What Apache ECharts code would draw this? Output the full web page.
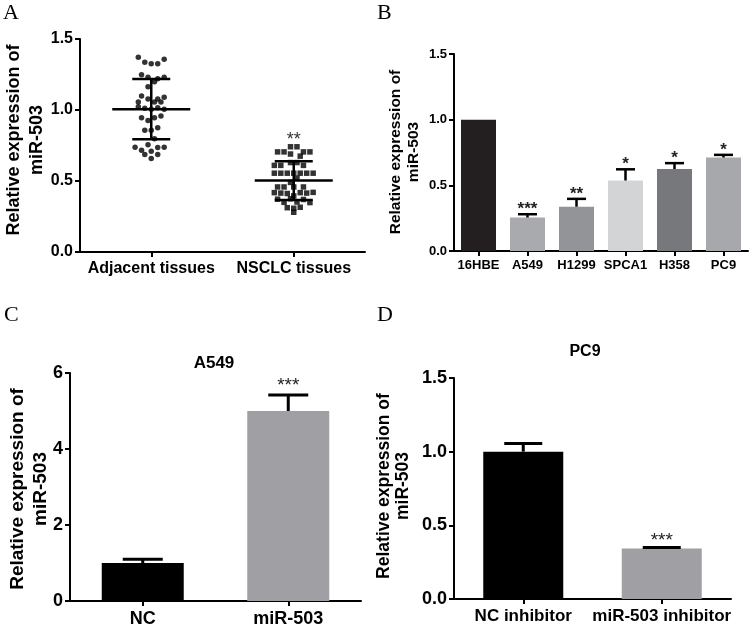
<!DOCTYPE html>
<html><head><meta charset="utf-8">
<script src="https://cdn.jsdelivr.net/npm/echarts@6/dist/echarts.min.js"></script>
<style>html,body{margin:0;padding:0;background:#fff}#c{width:753px;height:628px}</style>
</head><body><div id="c"></div><script>
const FONT = '"Liberation Sans", Arial, Helvetica, sans-serif';
const SERIF = '"Liberation Serif", "Times New Roman", serif';

// ---------- Panel A data ----------
const groupsA = ['Adjacent tissues', 'NSCLC tissues'];
const adjVals = [1.371,1.336,1.326,1.326,1.357, 1.249,1.230,1.199,1.220,1.230, 1.164,
  1.098,1.077,1.077,1.089,1.056,1.056,1.056, 1.023,1.013,1.006,1.016,1.006,
  0.945,0.926,0.945,0.957, 0.858,0.858,0.875, 0.797, 0.738,0.755,0.736,0.738,
  0.717,0.710,0.687, 0.687, 0.658];
const adjCols = [-4,-2,0,2,4, -3,-1,1,2,4, -1,
  -3,-1,2,4,-4,1,3, -4,-2,0,2,4,
  -3,-1,1,3, -2,0,2, 1, -5,-1,2,4,
  -3,0,2, -2, 0];
const nscVals = [0.741,0.741, 0.705,0.705,0.705,0.705, 0.690, 0.675, 0.630,0.630,
  0.610,0.610,0.610, 0.555,0.555,0.555,0.555,0.555,0.555,0.555, 0.520, 0.490,
  0.458,0.458,0.458,0.458, 0.418,0.415,0.412,0.418,0.415,0.420, 0.395,
  0.372,0.375,0.370, 0.350,0.352,0.348, 0.312,0.308,0.315, 0.280];
const nscCols = [-1,1, -5,-3,3,5, -1, 2, -1,1,
  -6,-4,3, -6,-4,-2,0,2,4,6, 1, -1,
  -5,-3,0,3, -6,-4,-2,2,4,6, 0,
  -5,-1,3, -3,1,5, -2,0,2, 0];
const meanA = [1.006, 0.503];
const sdA = [0.212, 0.136];
const starsA = ['', '**'];

// ---------- Panel B data ----------
const cellsB = ['16HBE', 'A549', 'H1299', 'SPCA1', 'H358', 'PC9'];
const valsB = [1.0, 0.255, 0.337, 0.537, 0.624, 0.712];
const sdB = [0, 0.025, 0.06, 0.085, 0.045, 0.02];
const starsB = ['', '***', '**', '*', '*', '*'];
const colorsB = ['#231f20', '#a9aaad', '#939497', '#d3d4d6', '#77787b', '#a7a8ab'];

// ---------- Panel C data ----------
const groupsC = ['NC', 'miR-503'];
const valsC = [1.0, 5.0];
const sdC = [0.1, 0.42];
const starsC = ['', '***'];
const colorsC = ['#000000', '#a0a0a4'];

// ---------- Panel D data ----------
const groupsD = ['NC inhibitor', 'miR-503 inhibitor'];
const valsD = [1.0, 0.342];
const sdD = [0.055, 0.007];
const starsD = ['', '***'];
const colorsD = ['#000000', '#a0a0a4'];

const COL_STEP = 0.0227; // beeswarm column step on the hidden 0..2 axis

function yAxisCfg(gi, max, interval, fs, dec) {
  return {
    type: 'value', gridIndex: gi, min: 0, max: max, interval: interval,
    axisLine: { show: true, lineStyle: { color: '#000', width: 2 } },
    axisTick: { show: true, length: 5, lineStyle: { color: '#000', width: 2 } },
    splitLine: { show: false },
    axisLabel: { margin: 7, color: '#000', fontFamily: FONT, fontWeight: 'bold', fontSize: fs,
      formatter: v => v.toFixed(dec) }
  };
}
function xCatCfg(gi, data, fs, margin) {
  return {
    type: 'category', gridIndex: gi, data: data, boundaryGap: true,
    axisLine: { show: true, lineStyle: { color: '#000', width: 2 } },
    axisTick: { show: true, alignWithLabel: true, length: 5, lineStyle: { color: '#000', width: 2 } },
    splitLine: { show: false },
    axisLabel: { interval: 0, margin: margin, color: '#000', fontFamily: FONT, fontWeight: 'bold', fontSize: fs }
  };
}
function errRender(sds, stars, capW, lw, starFont, starGap) {
  return function (params, api) {
    const i = params.dataIndex;
    const x = api.value(0), v = api.value(1), sd = sds[i];
    const p0 = api.coord([x, v]);
    const p1 = api.coord([x, v + sd]);
    const ch = [];
    if (sd > 0) {
      ch.push({ type: 'line', shape: { x1: p0[0], y1: p0[1], x2: p1[0], y2: p1[1] }, style: { stroke: '#000', lineWidth: lw } });
      ch.push({ type: 'line', shape: { x1: p1[0] - capW / 2, y1: p1[1], x2: p1[0] + capW / 2, y2: p1[1] }, style: { stroke: '#000', lineWidth: lw } });
    }
    if (stars[i]) {
      ch.push({ type: 'text', x: p1[0], y: p1[1] - starGap,
        style: { text: stars[i], textAlign: 'center', textVerticalAlign: 'middle', font: starFont, fill: '#222' } });
    }
    return { type: 'group', children: ch };
  };
}
function barSeries(xi, yi, names, vals, colors, bw) {
  return { type: 'bar', xAxisIndex: xi, yAxisIndex: yi, barWidth: bw, silent: true,
    data: vals.map((v, i) => ({ value: v, itemStyle: { color: colors[i] } })) };
}
function errSeries(xi, yi, names, vals, sds, stars, capW, lw, starFont, starGap) {
  return { type: 'custom', xAxisIndex: xi, yAxisIndex: yi, z: 5, silent: true,
    encode: { x: 0, y: 1 },
    data: vals.map((v, i) => [names[i], v]),
    renderItem: errRender(sds, stars, capW, lw, starFont, starGap) };
}
function yTitle(x, y, fs, lh) {
  return { type: 'text', x: x, y: y, rotation: Math.PI / 2, silent: true,
    style: { text: 'Relative expression of\nmiR-503', textAlign: 'center', textVerticalAlign: 'middle',
      fontFamily: FONT, fontWeight: 'bold', fontSize: fs, lineHeight: lh, fill: '#000' } };
}
function letter(t, x, y) {
  return { type: 'text', x: x, y: y, silent: true,
    style: { text: t, fontFamily: SERIF, fontSize: 22, fill: '#000', textVerticalAlign: 'top' } };
}
function plotTitle(t, x, y, fs) {
  return { type: 'text', x: x, y: y, silent: true,
    style: { text: t, fontFamily: FONT, fontWeight: 'bold', fontSize: fs, fill: '#000', textAlign: 'center', textVerticalAlign: 'middle' } };
}

const chart = echarts.init(document.getElementById('c'), null, { renderer: 'canvas' });
const option = {
  backgroundColor: '#fff',
  animation: false,
  grid: [
    { left: 80, top: 39, width: 285, height: 213, outerBoundsMode: 'none' },
    { left: 454, top: 54, width: 294, height: 197, outerBoundsMode: 'none' },
    { left: 70, top: 373, width: 291, height: 228, outerBoundsMode: 'none' },
    { left: 454, top: 378, width: 277, height: 221, outerBoundsMode: 'none' }
  ],
  xAxis: [
    xCatCfg(0, groupsA, 16, 9),
    { type: 'value', gridIndex: 0, min: 0, max: 2, show: false },
    xCatCfg(1, cellsB, 13, 8),
    xCatCfg(2, groupsC, 18, 9),
    xCatCfg(3, groupsD, 17, 9)
  ],
  yAxis: [
    yAxisCfg(0, 1.5, 0.5, 16, 1),
    yAxisCfg(1, 1.5, 0.5, 13, 1),
    yAxisCfg(2, 6, 2, 18, 0),
    yAxisCfg(3, 1.5, 0.5, 18, 1)
  ],
  graphic: [
    letter('A', 3, 2), letter('B', 377, 2), letter('C', 4, 304), letter('D', 377, 304),
    yTitle(25.5, 140, 18, 23),
    yTitle(405, 152, 15.5, 18),
    yTitle(29.5, 489, 19, 23),
    yTitle(394, 486, 17.5, 19),
    plotTitle('A549', 214, 363, 17),
    plotTitle('PC9', 585, 352, 16)
  ],
  series: [
    { type: 'scatter', xAxisIndex: 1, yAxisIndex: 0, symbol: 'circle', symbolSize: 5.5, silent: true,
      itemStyle: { color: '#000' },
      data: adjVals.map((v, i) => [0.5 + adjCols[i] * COL_STEP, v]) },
    { type: 'scatter', xAxisIndex: 1, yAxisIndex: 0, symbol: 'rect', symbolSize: 5.5, silent: true,
      itemStyle: { color: '#000' },
      data: nscVals.map((v, i) => [1.5 + nscCols[i] * COL_STEP, v]) },
    { type: 'custom', xAxisIndex: 1, yAxisIndex: 0, z: 5, silent: true,
      encode: { x: 0, y: 1 },
      data: meanA.map((m, i) => [0.5 + i, m]),
      renderItem: function (params, api) {
        const i = params.dataIndex;
        const x = api.value(0), m = api.value(1), s = sdA[i];
        const pm = api.coord([x, m]), pu = api.coord([x, m + s]), pl = api.coord([x, m - s]);
        const st = { stroke: '#000', lineWidth: 2.5 };
        const ch = [
          { type: 'line', shape: { x1: pm[0] - 39, y1: pm[1], x2: pm[0] + 39, y2: pm[1] }, style: st },
          { type: 'line', shape: { x1: pu[0] - 19, y1: pu[1], x2: pu[0] + 19, y2: pu[1] }, style: st },
          { type: 'line', shape: { x1: pl[0] - 19, y1: pl[1], x2: pl[0] + 19, y2: pl[1] }, style: st },
          { type: 'line', shape: { x1: pu[0], y1: pu[1], x2: pl[0], y2: pl[1] }, style: st }
        ];
        if (starsA[i]) {
          const top = Math.max.apply(null, i === 0 ? adjVals : nscVals);
          const pt = api.coord([x, top]);
          ch.push({ type: 'text', x: pt[0], y: pt[1] - 7,
            style: { text: starsA[i], textAlign: 'center', textVerticalAlign: 'middle', font: '18px ' + FONT, fill: '#333' } });
        }
        return { type: 'group', children: ch };
      } },
    barSeries(2, 1, cellsB, valsB, colorsB, 35),
    errSeries(2, 1, cellsB, valsB, sdB, starsB, 19, 2.5, 'bold 17px ' + FONT, 5),
    barSeries(3, 2, groupsC, valsC, colorsC, 82),
    errSeries(3, 2, groupsC, valsC, sdC, starsC, 40, 3, '19px ' + FONT, 9),
    barSeries(4, 3, groupsD, valsD, colorsD, 80),
    errSeries(4, 3, groupsD, valsD, sdD, starsD, 38, 3, '19px ' + FONT, 7)
  ]
};
chart.setOption(option);
</script></body></html>
